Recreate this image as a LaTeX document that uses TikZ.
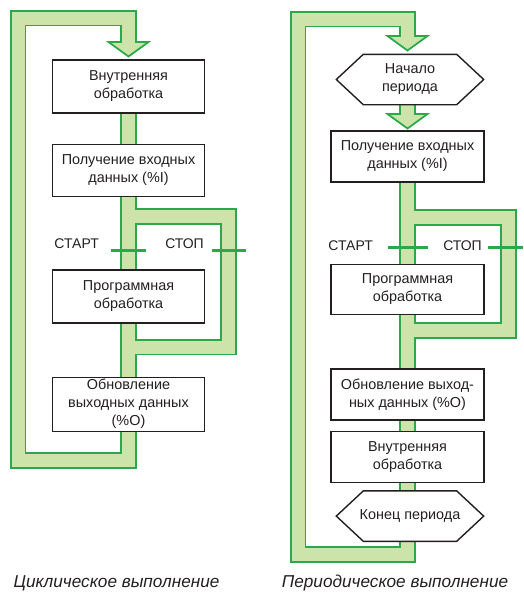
\documentclass[tikz,border=0pt]{standalone}
\usepackage{fontspec}
\setmainfont{Liberation Sans}
\usetikzlibrary{positioning, backgrounds}
\definecolor{cBand}{HTML}{CCE3AA}
\definecolor{cGreen}{HTML}{2BA84A}
\definecolor{cInk}{HTML}{231F20}

\begin{document}
\begin{tikzpicture}[x=1pt, y=-1pt,
  box/.style={rectangle, draw=cInk, line width=1.4pt, fill=white, minimum width=152pt,
              minimum height=52pt, inner sep=0pt, align=center, text=cInk,
              font=\fontsize{14.4}{18}\selectfont},
  hexa/.style={box, draw=none, fill=none, minimum width=146pt, minimum height=49pt},
  bandout/.style={line width=16.5pt, draw=cGreen, line join=miter},
  bandin/.style={line width=13pt, draw=cBand, line join=miter},
  head/.style={fill=cBand, draw=cGreen, line width=1.75pt, line join=miter},
  bar/.style={line width=3pt, draw=cGreen},
  lbl/.style={font=\fontsize{14}{16}\selectfont, text=cInk, inner sep=0pt},
  caption/.style={font=\fontsize{17.2}{19}\selectfont\itshape, text=cInk, inner sep=0pt},
]
\useasboundingbox (0,0) rectangle (523,592);

% cyclic
\node[box, minimum height=53pt] (in1) at (128.5,86.5) {Внутренняя\\обработка};
\node[box, below=30pt of in1] (get1) {Получение входных\\данных (\%I)};
\node[box, minimum height=53pt, below=72pt of get1] (prog1) {Программная\\обработка};
\node[box, minimum height=54pt, below=53pt of prog1] (upd1) {Обновление\\выходных данных\\(\%O)};

% periodic
\node[hexa] (beg) at (410,79.5) {Начало\\периода};
\node[box, minimum width=153pt, minimum height=51pt] (get2) at (407.5,156.5) {Получение входных\\данных (\%I)};
\node[box, minimum width=153pt, minimum height=50pt, below=81pt of get2] (prog2) {Программная\\обработка};
\node[box, minimum width=153pt, minimum height=51pt, below=53pt of prog2] (upd2) {Обновление выход-\\ных данных (\%O)};
\node[box, minimum width=153pt, minimum height=51pt, below=10pt of upd2] (in2) {Внутренняя\\обработка};
\node[hexa, below=8pt of in2, xshift=2.5pt] (fin) {Конец периода};

\coordinate (a1) at (128.5,42);
\coordinate (l1t) at (18,18);
\coordinate (l1b) at (18,460.5);
\coordinate (r1t) at (228.5,216.5);
\coordinate (r1b) at (228.5,347);
\coordinate (a2) at (407.5,36);
\coordinate (a3) at (407.5,114);
\coordinate (l2t) at (298,19);
\coordinate (l2b) at (298,554.5);
\coordinate (r2t) at (508.5,217.5);
\coordinate (r2b) at (508.5,330.5);

\begin{scope}[on background layer]
  \foreach \s in {bandout, bandin} {
    \draw[\s] (a1) |- (l1t) -- (l1b) -| (in1.south);
    \draw[\s] (r1t -| get1.south) -- (r1t) -- (r1b) -- (r1b -| get1.south);
    \draw[\s] (a2) |- (l2t) -- (l2b) -| (get2.north);
    \draw[\s] (r2t -| get2.south) -- (r2t) -- (r2b) -- (r2b -| get2.south);
    \draw[\s] ([yshift=5pt]a3 |- beg.south) -- ([yshift=-2pt]a3);
  }
  \foreach \p in {a1, a2, a3} {
    \filldraw[head] ([xshift=-20pt]\p) -- ([xshift=20pt]\p) -- ([yshift=-14.5pt]\p) -- cycle;
    \draw[bandin] ([yshift=4pt]\p) -- ([yshift=-3pt]\p);
  }
  \foreach \h in {beg, fin}
    \filldraw[fill=white, draw=cInk, line width=1.4pt] (\h.west) -- ([xshift=27pt]\h.north west)
      -- ([xshift=-27pt]\h.north east) -- (\h.east) -- ([xshift=-27pt]\h.south east)
      -- ([xshift=27pt]\h.south west) -- cycle;
\end{scope}

% start / stop
\coordinate (s1a) at (111,250);
\coordinate (s1b) at (146,250);
\coordinate (p1a) at (212,250);
\coordinate (p1b) at (246,250);
\coordinate (s2a) at (388,247);
\coordinate (s2b) at (428,247);
\coordinate (p2a) at (488,247);
\coordinate (p2b) at (523,247);
\draw[bar] (s1a) -- (s1b);
\draw[bar] (p1a) -- (p1b);
\draw[bar] (s2a) -- (s2b);
\draw[bar] (p2a) -- (p2b);
\node[lbl, left=12pt of s1a, yshift=6.5pt] (st1) {СТАРТ};
\node[lbl, left=8pt of p1a, yshift=6.5pt] (sp1) {СТОП};
\node[lbl, left=15pt of s2a, yshift=1.5pt] (st2) {СТАРТ};
\node[lbl, left=6pt of p2a, yshift=1.5pt] (sp2) {СТОП};

\node[caption] (c1) at (116.5,583) {Циклическое выполнение};
\node[caption] (c2) at (395,583) {Периодическое выполнение};
\end{tikzpicture}
\end{document}
